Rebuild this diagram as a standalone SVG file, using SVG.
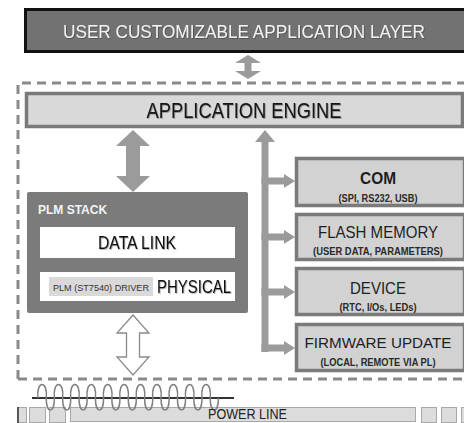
<svg xmlns="http://www.w3.org/2000/svg" width="464" height="423" viewBox="0 0 464 423">
<defs>
<filter id="sh" x="-5%" y="-30%" width="110%" height="160%"><feDropShadow dx="0.8" dy="0.8" stdDeviation="0.7" flood-color="#000" flood-opacity="0.35"/></filter>
</defs>
<style>
text{font-family:"Liberation Sans",Arial,sans-serif;}
.arr{fill:#9b9b9b;}
.box{fill:#d2d2d2;stroke:#7a7a7a;stroke-width:3.5;}
.main{font-size:17px;fill:#1e1e1e;text-anchor:middle;}
.sub{font-size:11px;font-weight:bold;fill:#2a2a2a;text-anchor:middle;}
.sq{fill:#dcdcdc;stroke:#a8a8a8;stroke-width:1;}
</style>
<rect width="464" height="423" fill="#ffffff"/>
<g id="container">
<path d="M18 379 V83 H466 M18 379 H466" fill="none" stroke="#8a8a8a" stroke-width="3" stroke-dasharray="9 6"/>
</g>
<g id="user-layer">
<rect x="25.5" y="9.5" width="445" height="42" fill="#727272" stroke="#111" stroke-width="3"/>
<text x="244" y="38" font-size="18" fill="#f2f2f2" text-anchor="middle" textLength="362" lengthAdjust="spacingAndGlyphs" filter="url(#sh)">USER CUSTOMIZABLE APPLICATION LAYER</text>
</g>
<g id="app-engine">
<rect x="26.5" y="93.5" width="436" height="33" fill="#d9d9d9" stroke="#7a7a7a" stroke-width="3.5"/>
<text x="244" y="118" font-size="22" fill="#151515" text-anchor="middle" textLength="195" lengthAdjust="spacingAndGlyphs" filter="url(#sh)">APPLICATION ENGINE</text>
</g>
<g id="connectors">
<polygon class="arr" points="248,55 261,63 251.5,63 251.5,71 261,71 248,79 235,71 244.5,71 244.5,63 235,63"/>
<polygon class="arr" points="133,130 150,146 140,146 140,176 150,176 133,192 116,176 126,176 126,146 116,146"/>
<polygon class="arr" points="265,130 275,142 261.5,142 255,142"/>
<rect class="arr" x="261.5" y="141" width="7" height="211"/>
<rect class="arr" x="261.5" y="177.5" width="23" height="7"/>
<polygon class="arr" points="284,174 295,181 284,188"/>
<rect class="arr" x="261.5" y="233.5" width="23" height="7"/>
<polygon class="arr" points="284,230 295,237 284,244"/>
<rect class="arr" x="261.5" y="288.5" width="23" height="7"/>
<polygon class="arr" points="284,285 295,292 284,299"/>
<rect class="arr" x="261.5" y="344.5" width="23" height="7"/>
<polygon class="arr" points="284,341 295,348 284,355"/>
<polygon points="133,315 149,333 139.5,333 139.5,357 149,357 133,375 117,357 126.5,357 126.5,333 117,333" fill="#ffffff" stroke="#8a8a8a" stroke-width="1.3" stroke-linejoin="miter"/>
</g>
<g id="plm-stack">
<rect x="27" y="192" width="221" height="121" rx="2" fill="#7b7b7b"/>
<text x="38" y="214" font-size="12" font-weight="bold" fill="#f4f4f4">PLM STACK</text>
<g id="data-link">
<rect x="40" y="227" width="195" height="31" fill="#ffffff"/>
<text x="137" y="249" font-size="19" fill="#111" text-anchor="middle" textLength="78" lengthAdjust="spacingAndGlyphs" filter="url(#sh)">DATA LINK</text>
</g>
<g id="physical">
<rect x="40" y="272" width="195" height="29" fill="#ffffff"/>
<rect x="49" y="277" width="104" height="19" fill="#d9d9d9"/>
<text x="53" y="291" font-size="9.5" fill="#333" textLength="96" lengthAdjust="spacingAndGlyphs">PLM (ST7540) DRIVER</text>
<text x="157" y="293" font-size="19" fill="#111" textLength="74" lengthAdjust="spacingAndGlyphs" filter="url(#sh)">PHYSICAL</text>
</g>
</g>
<g id="com">
<rect class="box" x="296.5" y="158.5" width="168" height="47"/>
<text class="main" x="378" y="184" font-weight="bold" textLength="36" lengthAdjust="spacingAndGlyphs">COM</text>
<text class="sub" x="378" y="202" textLength="79" lengthAdjust="spacingAndGlyphs">(SPI, RS232, USB)</text>
</g>
<g id="flash-memory">
<rect class="box" x="296.5" y="214.5" width="168" height="45"/>
<text class="main" x="378" y="238" textLength="120" lengthAdjust="spacingAndGlyphs">FLASH MEMORY</text>
<text class="sub" x="378" y="255" textLength="130" lengthAdjust="spacingAndGlyphs">(USER DATA, PARAMETERS)</text>
</g>
<g id="device">
<rect class="box" x="296.5" y="268.5" width="168" height="46"/>
<text class="main" x="378" y="294" textLength="56" lengthAdjust="spacingAndGlyphs">DEVICE</text>
<text class="sub" x="378" y="311" textLength="77" lengthAdjust="spacingAndGlyphs">(RTC, I/Os, LEDs)</text>
</g>
<g id="firmware-update">
<rect class="box" x="296.5" y="324.5" width="168" height="46"/>
<text class="main" x="378" y="348" font-size="15.5" textLength="147" lengthAdjust="spacingAndGlyphs" style="font-size:15.5px">FIRMWARE UPDATE</text>
<text class="sub" x="378" y="366" textLength="115" lengthAdjust="spacingAndGlyphs">(LOCAL, REMOTE VIA PL)</text>
</g>
<g id="power-line">
<rect class="sq" x="17.5" y="407.5" width="9" height="15"/>
<line x1="18" y1="407" x2="18" y2="423" stroke="#333" stroke-width="1.5"/>
<rect class="sq" x="29.5" y="407.5" width="16" height="15"/>
<rect class="sq" x="49.5" y="407.5" width="16" height="15"/>
<rect class="sq" x="70.5" y="407.5" width="345" height="14"/>
<rect class="sq" x="421.5" y="407.5" width="15" height="15"/>
<rect class="sq" x="441.5" y="407.5" width="15" height="15"/>
<rect class="sq" x="461.5" y="407.5" width="15" height="15"/>
<line x1="32" y1="398" x2="234" y2="398" stroke="#333" stroke-width="2"/>
<path d="M38 398 c-2,-18 10.2,-18 8.2,0 c0,16 8.2,16 8.2,0 c-2,-18 10.2,-18 8.2,0 c0,16 8.2,16 8.2,0 c-2,-18 10.2,-18 8.2,0 c0,16 8.2,16 8.2,0 c-2,-18 10.2,-18 8.2,0 c0,16 8.2,16 8.2,0 c-2,-18 10.2,-18 8.2,0 c0,16 8.2,16 8.2,0 c-2,-18 10.2,-18 8.2,0 c0,16 8.2,16 8.2,0 c-2,-18 10.2,-18 8.2,0 c0,16 8.2,16 8.2,0 c-2,-18 10.2,-18 8.2,0 c0,16 8.2,16 8.2,0 c-2,-18 10.2,-18 8.2,0 c0,16 8.2,16 8.2,0 c-2,-18 10.2,-18 8.2,0 c0,16 8.2,16 8.2,0 c-2,-18 10.2,-18 8.2,0 c0,16 8.2,16 8.2,0" fill="none" stroke="#808080" stroke-width="1.5"/>
<text x="208" y="419" font-size="14" fill="#222" textLength="79" lengthAdjust="spacingAndGlyphs">POWER LINE</text>
</g>
</svg>
